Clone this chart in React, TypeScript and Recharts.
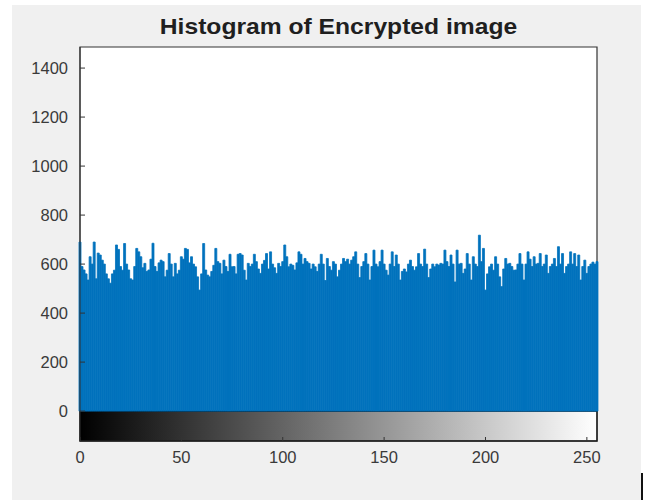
import { Bar, CartesianGrid, ComposedChart, ReferenceArea, XAxis, YAxis } from "recharts";

// pixel counts per gray level (levels 0-255)
const countsA = [
  690, 590, 576, 560, 535, 630, 600, 690, 540, 645, 637, 616, 600, 560, 540, 522,
  560, 575, 678, 660, 590, 575, 684, 600, 576, 540, 535, 590, 664, 650, 630, 585,
  603, 570, 576, 620, 685, 590, 570, 605, 616, 610, 548, 575, 643, 600, 548, 603,
  560, 575, 630, 620, 664, 660, 605, 630, 600, 589, 548, 494, 560, 684, 576, 555,
];
const countsB = [
  548, 570, 595, 664, 610, 603, 560, 616, 590, 570, 640, 589, 590, 560, 640, 643,
  637, 575, 535, 603, 590, 600, 640, 610, 580, 562, 600, 615, 643, 580, 650, 600,
  585, 562, 603, 590, 610, 678, 630, 589, 600, 595, 576, 605, 650, 640, 600, 623,
  610, 603, 580, 600, 589, 570, 600, 640, 600, 533, 623, 590, 575, 610, 600, 548,
];
const countsC = [
  575, 600, 623, 610, 620, 600, 616, 630, 650, 600, 545, 590, 610, 643, 600, 535,
  590, 657, 600, 589, 610, 657, 600, 575, 555, 600, 650, 590, 637, 600, 535, 570,
  580, 568, 600, 616, 590, 575, 589, 643, 600, 590, 661, 600, 545, 580, 600, 589,
  600, 596, 603, 600, 657, 610, 590, 637, 600, 527, 657, 600, 603, 562, 580, 643,
];
const countsD = [
  600, 535, 630, 600, 590, 718, 610, 664, 494, 560, 589, 600, 575, 630, 600, 548,
  508, 580, 623, 600, 603, 590, 575, 576, 600, 643, 600, 535, 600, 650, 620, 590,
  630, 600, 603, 643, 590, 600, 637, 562, 590, 600, 623, 590, 671, 600, 643, 562,
  590, 600, 650, 600, 643, 590, 637, 535, 590, 616, 562, 590, 600, 608, 600, 610,
];

const xTicks = [0, 50, 100, 150, 200, 250];
const yTicks = [0, 200, 400, 600, 800, 1000, 1200, 1400];

const counts = [...countsA, ...countsB, ...countsC, ...countsD];
const chartData = counts.map((count, level) => ({ level, count }));

const labelColor = "#3a3a3a";
const axisColor = "#333333";
const barColor = "#0072BD";

function TickLabel(props: any) {
  const { x, y, payload, textAnchor, orientation } = props;
  return (
    <text
      x={x}
      y={y}
      textAnchor={textAnchor}
      dy={orientation === "bottom" ? "0.71em" : "0.35em"}
      fill={labelColor}
      fontSize={16.5}
      fontFamily="'Liberation Sans', Arial, sans-serif"
    >
      {payload.value}
    </text>
  );
}

export default function App() {
  return (
    <div style={styles.page}>
      <div style={styles.title}>Histogram of Encrypted image</div>
      <ComposedChart
        width={629}
        height={495}
        data={chartData}
        margin={{ top: 42, right: 44, bottom: 29, left: 0 }}
        barGap={0}
      >
        <defs>
          <linearGradient id="grayRamp" x1="0" x2="1" y1="0" y2="0">
            <stop offset="0" stopColor="#000000" />
            <stop offset="1" stopColor="#ffffff" />
          </linearGradient>
        </defs>
        <CartesianGrid horizontal={false} vertical={false} fill="#ffffff" />
        <XAxis
          dataKey="level"
          type="number"
          domain={[0, 255]}
          ticks={xTicks}
          height={30}
          tickSize={-4}
          tickMargin={14}
          stroke={axisColor}
          tick={<TickLabel />}
        />
        <YAxis
          type="number"
          domain={[-122, 1486]}
          ticks={yTicks}
          width={68}
          tickSize={-5}
          tickMargin={17}
          stroke={axisColor}
          tick={<TickLabel />}
        />
        <Bar
          dataKey="count"
          fill={barColor}
          stroke={barColor}
          strokeWidth={0.8}
          barSize={2}
          isAnimationActive={false}
        />
        <ReferenceArea
          x1={0}
          x2={255}
          y1={0}
          y2={1486}
          fill="none"
          stroke={axisColor}
          strokeWidth={1.2}
        />
        <ReferenceArea
          x1={0}
          x2={255}
          y1={-122}
          y2={0}
          fill="url(#grayRamp)"
          fillOpacity={1}
          stroke="#000000"
          strokeWidth={1.5}
        />
      </ComposedChart>
      <div style={styles.cursor} />
    </div>
  );
}

const styles: Record<string, React.CSSProperties> = {
  page: {
    position: "fixed",
    left: 12,
    top: 5,
    width: 629,
    height: 495,
    background: "#f0f0f0",
  },
  title: {
    position: "absolute",
    left: 68,
    top: 9,
    width: 517,
    textAlign: "center",
    fontFamily: "'Liberation Sans', Arial, sans-serif",
    fontWeight: 700,
    fontSize: 22,
    lineHeight: "26px",
    color: "#1f1f1f",
    transform: "scaleX(1.12)",
  },
  cursor: {
    position: "absolute",
    left: 629,
    top: 468,
    width: 2,
    height: 27,
    background: "#111111",
  },
};
